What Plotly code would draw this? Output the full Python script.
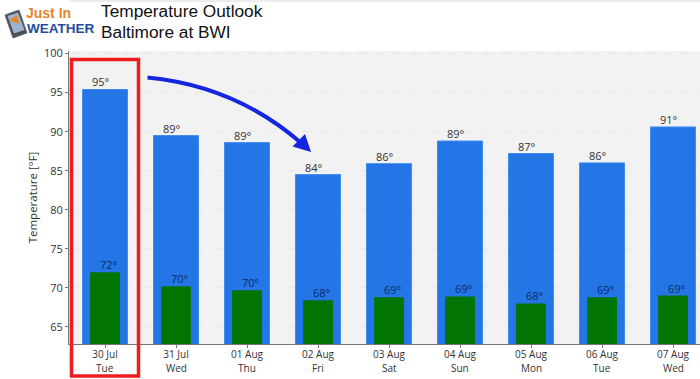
import plotly.graph_objects as go

dates = ["30 Jul", "31 Jul", "01 Aug", "02 Aug", "03 Aug", "04 Aug", "05 Aug", "06 Aug", "07 Aug"]
weekdays = ["Tue", "Wed", "Thu", "Fri", "Sat", "Sun", "Mon", "Tue", "Wed"]
highs = [95.4, 89.5, 88.6, 84.5, 85.9, 88.8, 87.2, 86.0, 90.6]
lows = [72.0, 70.2, 69.7, 68.4, 68.8, 68.9, 68.0, 68.8, 69.0]
high_labels = ["95°", "89°", "89°", "84°", "86°", "89°", "87°", "86°", "91°"]
low_labels = ["72°", "70°", "70°", "68°", "69°", "69°", "68°", "69°", "69°"]
y_ticks = [65, 70, 75, 80, 85, 90, 95, 100]

W, H = 700, 379
L, R, T, B = 69, 0, 51, 35
FONT = "Open Sans, Noto Sans, DejaVu Sans, sans-serif"

def px(x):
    return (x - L) / (W - L - R)

def py(y):
    return 1 - (y - T) / (H - T - B)

def path(*cmds):
    out = []
    for c in cmds:
        if isinstance(c, str):
            out.append(c)
        else:
            out.append(f"{px(c[0]):.5f},{py(c[1]):.5f}")
    return " ".join(out)

positions = list(range(len(dates)))
fig = go.Figure()
fig.add_bar(x=positions, y=highs, width=0.634, marker=dict(color="#2476e6", line=dict(color="#3f8cf0", width=1)), showlegend=False)
fig.add_bar(x=positions, y=lows, width=0.42, marker=dict(color="#037503", line=dict(width=0)), showlegend=False)

annotations = []
for i in positions:
    annotations.append(dict(x=i, y=highs[i], text=high_labels[i], xref="x", yref="y", showarrow=False,
                            yanchor="bottom", yshift=-2, xshift=-4,
                            font=dict(family=FONT, size=11, color="#333333")))
    annotations.append(dict(x=i, y=lows[i], text=low_labels[i], xref="x", yref="y", showarrow=False,
                            yanchor="bottom", yshift=-2, xshift=4,
                            font=dict(family=FONT, size=11, color="#0b2a66")))
    annotations.append(dict(x=i, y=0, text=weekdays[i], xref="x", yref="paper", showarrow=False,
                            yanchor="top", yshift=-15,
                            font=dict(family=FONT, size=10, color="#333333")))

def txt(x, y, s, size, color, family="Liberation Sans, Arial, sans-serif", weight="normal"):
    annotations.append(dict(x=px(x), y=py(y), xref="paper", yref="paper", text=s, showarrow=False,
                            xanchor="left", yanchor="middle", xshift=-1,
                            font=dict(family=family, size=size, color=color, weight=weight)))

txt(100, 11.5, "Temperature Outlook", 17.3, "#111111")
txt(100, 31.5, "Baltimore at BWI", 17.3, "#111111")
txt(25, 13, "Just In", 14, "#e8862b", weight="bold")
txt(26, 29, "WEATHER", 13.5, "#1f4f9c", weight="bold")

shapes = [
    dict(type="rect", xref="paper", yref="paper", x0=0, x1=1.0, y0=py(0), y1=py(2),
         fillcolor="#ececec", line=dict(width=0), layer="below"),
    dict(type="path", xref="paper", yref="paper",
         path=path("M", (5, 15), "L", (19, 10), "L", (27, 33), "L", (13, 38), "Z"),
         fillcolor="#4a4f57", line=dict(color="#6a6f78", width=1)),
    dict(type="path", xref="paper", yref="paper",
         path=path("M", (7.5, 16), "L", (18, 12.5), "L", (24.5, 30), "L", (14, 33.5), "Z"),
         fillcolor="#9fb3cf", line=dict(width=0)),
    dict(type="path", xref="paper", yref="paper",
         path=path("M", (9, 20), "L", (17, 15), "L", (19, 24), "Z"),
         fillcolor="#e8862b", line=dict(width=0)),
    dict(type="rect", xref="paper", yref="paper", x0=px(71.5), x1=px(138.5), y0=py(376), y1=py(59.5),
         line=dict(color="#ee1c1c", width=3.5), fillcolor="rgba(0,0,0,0)"),
    dict(type="path", xref="paper", yref="paper",
         path=path("M", (147.5, 77.5), "Q", (235, 86), (300, 142)),
         line=dict(color="#1426e0", width=4), fillcolor="rgba(0,0,0,0)"),
    dict(type="path", xref="paper", yref="paper",
         path=path("M", (311, 152), "L", (292.5, 146.5), "L", (305, 134), "Z"),
         fillcolor="#1426e0", line=dict(width=0)),
]

fig.update_layout(
    width=W, height=H, barmode="overlay", autosize=False,
    margin=dict(l=L, r=R, t=T, b=B),
    paper_bgcolor="white", plot_bgcolor="#f3f2f3",
    font=dict(family=FONT, size=11, color="#333333"),
    annotations=annotations, shapes=shapes, showlegend=False,
    xaxis=dict(range=[-0.507, 8.38], tickmode="array", tickvals=positions, ticktext=dates,
               showgrid=False, ticks="outside", ticklen=3, tickcolor="#777777", ticklabelstandoff=-2,
               showline=True, linecolor="#777777", linewidth=1, tickfont=dict(size=10, color="#333333"),
               zeroline=False),
    yaxis=dict(range=[62.8, 100.33], tickmode="array", tickvals=y_ticks,
               title=dict(text="Temperature [°F]", font=dict(size=11.5, color="#333333"), standoff=3),
               showgrid=True, gridcolor="#e9e8e9", griddash="dash", gridwidth=1,
               ticks="outside", ticklen=3, tickcolor="#777777", mirror=True,
               showline=True, linecolor="#777777", linewidth=1, tickfont=dict(size=11, color="#333333"),
               zeroline=False),
)
fig.write_html("out.html", config={"displayModeBar": False},
               post_script="document.body.style.margin='0';document.documentElement.style.overflow='hidden';window.dispatchEvent(new Event('resize'));")
